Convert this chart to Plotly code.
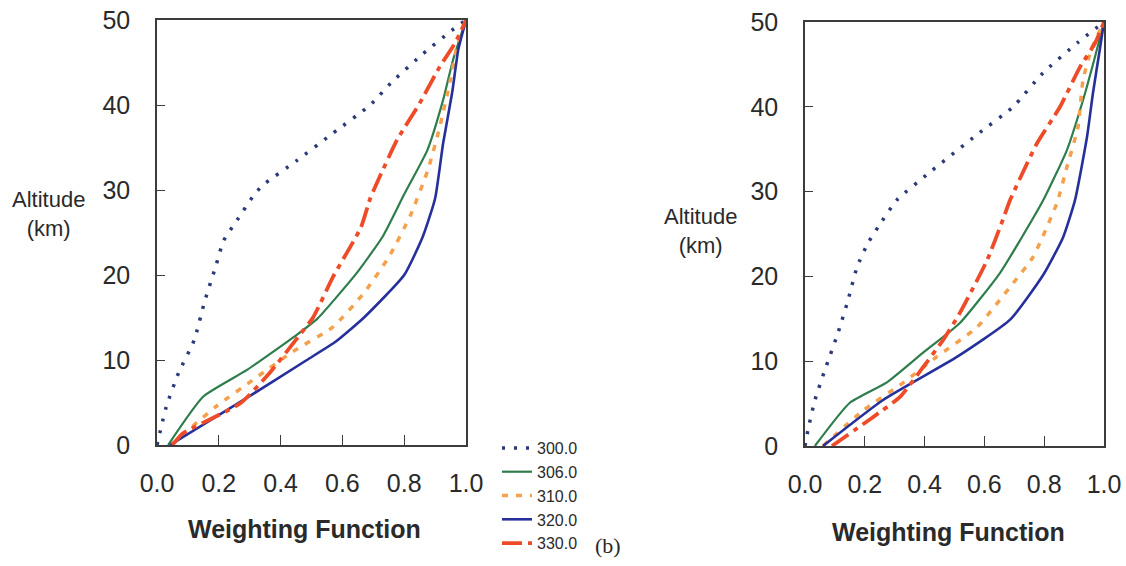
import plotly.graph_objects as go

# Weighting-function profiles (altitude in km) for five channels, two panels.
series_names = ["300.0", "306.0", "310.0", "320.0", "330.0"]

# ---- left panel ----
left_wf_300 = [0.0, 0.03, 0.07, 0.12, 0.155, 0.19, 0.215, 0.26, 0.31, 0.34, 0.45, 0.57, 0.69, 0.76, 0.86, 0.955, 1.0]
left_alt_300 = [0, 4.5, 8.5, 12.3, 17, 21, 24, 26.5, 29.2, 30.5, 33.4, 36.7, 40, 42.7, 46, 48.8, 50]

left_wf_306 = [0.036, 0.15, 0.29, 0.45, 0.52, 0.65, 0.73, 0.80, 0.875, 0.926, 0.958, 1.0]
left_alt_306 = [0, 5.7, 8.8, 12.9, 14.9, 20.4, 24.5, 29.5, 34.7, 40.6, 45.3, 50]

left_wf_310 = [0.045, 0.19, 0.32, 0.44, 0.57, 0.67, 0.75, 0.82, 0.877, 0.915, 0.948, 0.97, 1.0]
left_alt_310 = [0, 4.5, 7.9, 11, 13.9, 17.9, 22.1, 27, 32.4, 37.4, 42.7, 46.8, 50]

left_wf_320 = [0.042, 0.28, 0.485, 0.58, 0.67, 0.80, 0.86, 0.90, 0.926, 0.955, 0.975, 1.0]
left_alt_320 = [0, 5.3, 10, 12.2, 15, 20, 24.5, 29, 35.5, 41.4, 46.5, 50]

left_wf_330 = [0.05, 0.085, 0.27, 0.365, 0.45, 0.505, 0.57, 0.66, 0.69, 0.72, 0.777, 0.85, 0.915, 0.965, 1.0]
left_alt_330 = [0, 1.4, 4.9, 8.5, 12.4, 15, 19.8, 25.6, 29, 31.5, 35.9, 40.2, 44.5, 47.3, 50]

# ---- right panel ----
right_wf_300 = [0.0, 0.01, 0.033, 0.067, 0.11, 0.144, 0.174, 0.21, 0.244, 0.307, 0.418, 0.575, 0.696, 0.796, 0.913, 1.0]
right_alt_300 = [0, 1.9, 5.4, 9, 13.3, 17.2, 21.1, 23.9, 25.8, 29, 32.3, 36.7, 40, 44, 47.6, 50]

right_wf_306 = [0.033, 0.15, 0.274, 0.395, 0.518, 0.652, 0.72, 0.797, 0.876, 0.93, 0.97, 1.0]
right_alt_306 = [0, 5.1, 7.5, 11, 14.5, 20.4, 24.3, 29, 34.9, 40.8, 45.9, 50]

right_wf_310 = [0.06, 0.195, 0.33, 0.44, 0.575, 0.696, 0.763, 0.843, 0.876, 0.913, 0.93, 0.96, 1.0]
right_alt_310 = [0, 4.2, 7.5, 10.5, 14, 19.2, 22.3, 28.7, 32.9, 37.6, 43.2, 47, 50]

right_wf_320 = [0.06, 0.26, 0.508, 0.686, 0.797, 0.863, 0.903, 0.943, 0.963, 0.987, 1.0]
right_alt_320 = [0, 5.4, 10.5, 14.9, 20.2, 24.6, 29, 36.4, 41.6, 47, 50]

right_wf_330 = [0.09, 0.227, 0.318, 0.395, 0.462, 0.518, 0.609, 0.662, 0.686, 0.776, 0.853, 0.92, 0.97, 1.0]
right_alt_330 = [0, 3.4, 5.8, 9.3, 12.5, 15.7, 21.9, 26.7, 29, 35.7, 40, 44.7, 47.5, 50]

x_ticks = [0.0, 0.2, 0.4, 0.6, 0.8, 1.0]
x_tick_labels = ["0.0", "0.2", "0.4", "0.6", "0.8", "1.0"]
y_ticks = [0, 10, 20, 30, 40, 50]

styles = {
    "300.0": dict(color="#2b3a78", width=3.5, dash="3px,9px"),
    "306.0": dict(color="#2f7d4c", width=2.2, dash="solid"),
    "310.0": dict(color="#f4a04c", width=3.5, dash="6px,8px"),
    "320.0": dict(color="#26309a", width=2.6, dash="solid"),
    "330.0": dict(color="#ee4c28", width=3.8, dash="20px,6px,5px,6px"),
}

left_data = [
    (left_wf_300, left_alt_300), (left_wf_306, left_alt_306), (left_wf_310, left_alt_310),
    (left_wf_320, left_alt_320), (left_wf_330, left_alt_330),
]
right_data = [
    (right_wf_300, right_alt_300), (right_wf_306, right_alt_306), (right_wf_310, right_alt_310),
    (right_wf_320, right_alt_320), (right_wf_330, right_alt_330),
]

fig = go.Figure()
for name, (wf, alt) in zip(series_names, left_data):
    fig.add_trace(go.Scatter(x=wf, y=alt, mode="lines", name=name,
                             line=dict(shape="spline", smoothing=0.5, **styles[name]),
                             xaxis="x", yaxis="y", showlegend=True))
for name, (wf, alt) in zip(series_names, right_data):
    fig.add_trace(go.Scatter(x=wf, y=alt, mode="lines", name=name,
                             line=dict(shape="spline", smoothing=0.5, **styles[name]),
                             xaxis="x2", yaxis="y2", showlegend=False))

W, H = 1126, 566
font_family = "Liberation Sans, Arial, sans-serif"
tick_font = dict(family=font_family, size=25, color="#2a2a2a")
axis_line = "#3c3c3c"

def xaxis(domain, anchor):
    return dict(domain=domain, anchor=anchor, range=[0, 1], tickvals=x_ticks, ticktext=x_tick_labels,
                showline=True, mirror=True, linecolor=axis_line, linewidth=1.5,
                ticks="inside", ticklen=10, tickwidth=1.3, tickcolor=axis_line,
                showgrid=False, zeroline=False, tickfont=tick_font, ticklabelstandoff=15)

def yaxis(domain, anchor):
    return dict(domain=domain, anchor=anchor, range=[0, 50], tickvals=y_ticks,
                showline=True, mirror=True, linecolor=axis_line, linewidth=1.5,
                ticks="inside", ticklen=8, tickwidth=1.3, tickcolor=axis_line,
                showgrid=False, zeroline=False, tickfont=tick_font, ticklabelstandoff=20)

fig.update_layout(
    width=W, height=H,
    margin=dict(l=0, r=0, t=0, b=0, autoexpand=False),
    paper_bgcolor="white", plot_bgcolor="white",
    xaxis=xaxis([157 / W, 466 / W], "y"),
    yaxis=yaxis([1 - 445 / H, 1 - 20 / H], "x"),
    xaxis2=xaxis([805 / W, 1104 / W], "y2"),
    yaxis2=yaxis([1 - 446 / H, 1 - 22 / H], "x2"),
    legend=dict(x=497 / W, y=1 - 431 / H, xanchor="left", yanchor="top",
                bgcolor="rgba(0,0,0,0)", font=dict(family=font_family, size=16, color="#2a2a2a"),
                itemwidth=30, tracegroupgap=0),
    showlegend=True,
)

title_font = dict(family=font_family, size=25, color="#2a2a2a")
label_font = dict(family=font_family, size=22, color="#2a2a2a")
annotations = [
    dict(text="<b>Weighting Function</b>", x=304 / W, y=1 - 529 / H, font=title_font),
    dict(text="<b>Weighting Function</b>", x=948 / W, y=1 - 532 / H, font=title_font),
    dict(text="Altitude<br>(km)", x=48 / W, y=1 - 214 / H, font=label_font),
    dict(text="Altitude<br>(km)", x=700 / W, y=1 - 231 / H, font=label_font),
    dict(text="(b)", x=608 / W, y=1 - 545 / H,
         font=dict(family="Liberation Serif, Times New Roman, serif", size=22, color="#2a2a2a")),
]
for a in annotations:
    fig.add_annotation(xref="paper", yref="paper", xanchor="center", yanchor="middle",
                       showarrow=False, **a)

fig.write_html("out.html")
